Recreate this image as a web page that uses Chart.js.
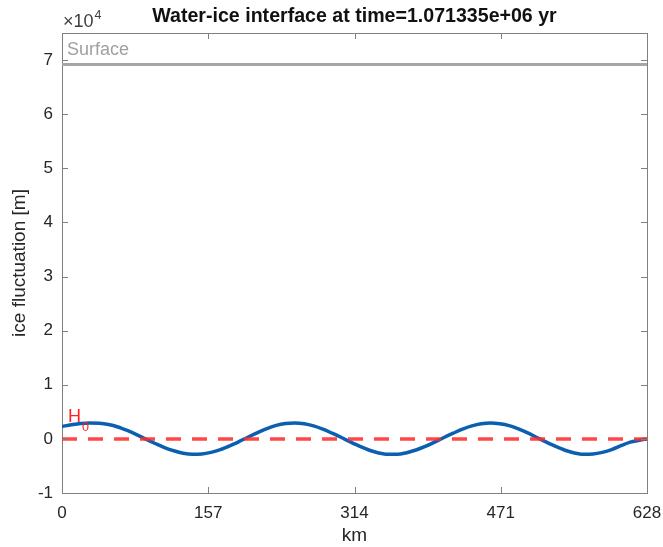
<!DOCTYPE html>
<html>
<head>
<meta charset="utf-8">
<script src="https://cdn.jsdelivr.net/npm/chart.js@4.4.1/dist/chart.umd.min.js"></script>
<style>
  html, body { margin: 0; padding: 0; background: #fff; }
  #wrap { width: 663px; height: 547px; }
</style>
</head>
<body>
<div id="wrap"><canvas id="iceChart" width="663" height="547"></canvas></div>
<script>
// values
var kmPoints = [0, 10, 20, 30, 40, 50, 60, 70, 80, 90, 100, 110, 120, 130, 140, 150, 160, 170, 180, 190,
    200, 210, 220, 230, 240, 250, 260, 270, 280, 290, 300, 310, 320, 330, 340, 350, 360, 370, 380, 390,
    400, 410, 420, 430, 440, 450, 460, 470, 480, 490, 500, 510, 520, 530, 540, 550, 560, 570, 580, 590,
    600, 610, 620, 628];
var icePoints = [2300, 2600, 2850, 2950, 2900, 2650, 2200, 1550, 800, -50, -850, -1600, -2200, -2650, -2850, -2800, -2500, -2000, -1300, -500,
    350, 1150, 1900, 2500, 2850, 2950, 2800, 2400, 1800, 1050, 250, -600, -1400, -2100, -2600, -2850, -2850, -2550, -2050, -1400,
    -600, 250, 1050, 1800, 2400, 2800, 2950, 2800, 2450, 1850, 1100, 250, -600, -1400, -2100, -2600, -2850, -2800, -2500, -2000,
    -1250, -600, -250, 0];
var surfaceLevel = 69200;
var h0Level = 0;
var xTicks = [0, 157, 314, 471, 628];
var yTicks = [-10000, 0, 10000, 20000, 30000, 40000, 50000, 60000, 70000];

var FONT = '"Liberation Sans", Arial, Helvetica, sans-serif';
var AXIS_COLOR = '#808080';

var wave = kmPoints.map(function (k, i) { return { x: k, y: icePoints[i] }; });
var xMin = kmPoints[0], xMax = kmPoints[kmPoints.length - 1];

// title, box, inward ticks and annotations in MATLAB style
var matlabBox = {
    id: 'matlabBox',
    afterDraw: function (chart) {
        var ctx = chart.ctx;
        var a = chart.chartArea;
        var xs = chart.scales.x, ys = chart.scales.y;
        ctx.save();

        ctx.strokeStyle = AXIS_COLOR;
        ctx.lineWidth = 1;
        ctx.beginPath();
        ctx.moveTo(a.left, a.top + 0.5);
        ctx.lineTo(a.right + 0.5, a.top + 0.5);
        ctx.lineTo(a.right + 0.5, a.bottom);
        ctx.stroke();

        ctx.beginPath();
        xTicks.forEach(function (v) {
            var px = Math.round(xs.getPixelForValue(v)) + 0.5;
            ctx.moveTo(px, a.bottom); ctx.lineTo(px, a.bottom - 6);
            ctx.moveTo(px, a.top); ctx.lineTo(px, a.top + 6);
        });
        yTicks.forEach(function (v) {
            var py = Math.round(ys.getPixelForValue(v)) + 0.5;
            ctx.moveTo(a.left, py); ctx.lineTo(a.left + 6, py);
            ctx.moveTo(a.right, py); ctx.lineTo(a.right - 6, py);
        });
        ctx.stroke();

        // title
        ctx.fillStyle = '#111';
        ctx.font = 'bold 19.6px ' + FONT;
        ctx.textAlign = 'center';
        ctx.textBaseline = 'alphabetic';
        ctx.fillText('Water-ice interface at time=1.071335e+06 yr', (a.left + a.right) / 2, 22);

        // exponent label
        ctx.fillStyle = '#404040';
        ctx.textAlign = 'left';
        ctx.font = '18px ' + FONT;
        ctx.fillText('\u00d710', a.left + 1, 27);
        var w = ctx.measureText('\u00d710').width;
        ctx.font = '12.5px ' + FONT;
        ctx.fillText('4', a.left + 1 + w + 1, 19);

        // Surface label
        ctx.fillStyle = '#a0a0a0';
        ctx.font = '18px ' + FONT;
        ctx.fillText('Surface', xs.getPixelForValue(xMin) + 5, ys.getPixelForValue(surfaceLevel) - 9);

        // H0 label
        ctx.fillStyle = '#ff2020';
        var hy = ys.getPixelForValue(h0Level) - 17;
        var hx = xs.getPixelForValue(xMin) + 6;
        ctx.fillText('H', hx, hy);
        var hw = ctx.measureText('H').width;
        ctx.font = '12.5px ' + FONT;
        ctx.fillText('0', hx + hw + 1, hy + 9);

        ctx.restore();
    }
};

var ctx = document.getElementById('iceChart').getContext('2d');
var iceChart = new Chart(ctx, {
    type: 'line',
    data: {
        datasets: [{
            label: 'H0',
            data: [{ x: xMin, y: h0Level }, { x: xMax, y: h0Level }],
            borderColor: 'rgba(255, 45, 45, 0.88)',
            borderWidth: 3.5,
            borderDash: [15, 11],
            pointRadius: 0
        }, {
            label: 'interface',
            data: wave,
            borderColor: '#0a5fb0',
            borderWidth: 3.5,
            tension: 0.4,
            cubicInterpolationMode: 'monotone',
            pointRadius: 0
        }, {
            label: 'Surface',
            data: [{ x: xMin, y: surfaceLevel }, { x: xMax, y: surfaceLevel }],
            borderColor: '#a6a6a6',
            borderWidth: 3,
            pointRadius: 0
        }]
    },
    options: {
        responsive: false,
        animation: false,
        layout: { padding: { top: 33, right: 16, bottom: 0, left: 0 } },
        plugins: {
            legend: { display: false },
            tooltip: { enabled: false }
        },
        scales: {
            x: {
                type: 'linear',
                min: xMin,
                max: xMax,
                afterBuildTicks: function (s) { s.ticks = xTicks.map(function (v) { return { value: v }; }); },
                afterFit: function (s) { s.height = 54; s.paddingLeft = 0; s.paddingRight = 0; },
                grid: { display: false, drawTicks: false },
                border: { display: true, color: AXIS_COLOR, width: 1 },
                ticks: { color: '#262626', font: { family: FONT, size: 17 }, padding: 10, maxRotation: 0 },
                title: { display: true, text: 'km', color: '#262626', font: { family: FONT, size: 19 }, padding: { top: 0, bottom: 0 } }
            },
            y: {
                min: -10000,
                max: 75000,
                afterBuildTicks: function (s) { s.ticks = yTicks.map(function (v) { return { value: v }; }); },
                afterFit: function (s) { s.width = 62; s.paddingTop = 0; s.paddingBottom = 0; },
                grid: { display: false, drawTicks: false },
                border: { display: true, color: AXIS_COLOR, width: 1 },
                ticks: {
                    color: '#262626', font: { family: FONT, size: 17 }, padding: 9,
                    callback: function (v) { return v / 10000; }
                },
                title: { display: true, text: 'ice fluctuation [m]', color: '#262626', font: { family: FONT, size: 19 }, padding: { top: 8, bottom: 0 } }
            }
        }
    },
    plugins: [matlabBox]
});
</script>
</body>
</html>
